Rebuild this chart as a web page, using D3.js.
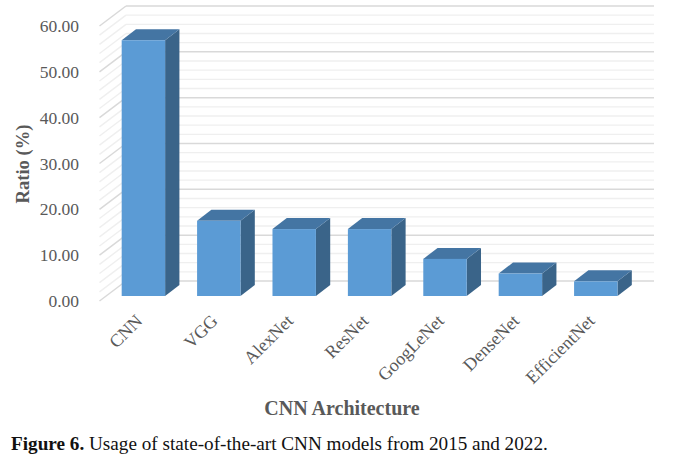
<!DOCTYPE html>
<html>
<head>
<meta charset="utf-8">
<script src="https://cdn.jsdelivr.net/npm/d3@7"></script>
<style>
body { margin: 0; background: #fff; }
text { font-family: "Liberation Serif", serif; }
</style>
</head>
<body>
<div id="chart"></div>
<script>
var categories = ["CNN", "VGG", "AlexNet", "ResNet", "GoogLeNet", "DenseNet", "EfficientNet"];
var ratios = [55.8, 16.4, 14.6, 14.6, 8.1, 4.9, 3.2];
var majorTicks = [0, 10, 20, 30, 40, 50, 60];
var minorTicks = [2, 4, 6, 8, 12, 14, 16, 18, 22, 24, 26, 28, 32, 34, 36, 38, 42, 44, 46, 48, 52, 54, 56, 58];

var svgWidth = 689;
var svgHeight = 459;

// plot box of the front of the floor, the back wall sits up and to the right
var floorLeft = 99.5;
var floorRight = 627.5;
var floorY = 301;
var plotHeight = 275;
var wallDx = 26.5;
var wallDy = -20;

// the bars stand a bit in from the front edge of the floor
var barFrontDx = 6.2;
var barFrontDy = -5;
var barDepthDx = 14.3;
var barDepthDy = -11;

var svg = d3.select("#chart")
  .append("svg")
  .attr("width", svgWidth)
  .attr("height", svgHeight);

var xScale = d3.scaleBand()
  .domain(categories)
  .range([floorLeft + barFrontDx, floorLeft + barFrontDx + 527.8])
  .paddingInner(0.424)
  .paddingOuter(0.212);

var yScale = d3.scaleLinear()
  .domain([0, 60])
  .range([floorY, floorY - plotHeight]);

function gridColor(major) { return major ? "#d9d9d9" : "#efefef"; }
function gridWidth(major) { return major ? 1.5 : 1.4; }

var gridData = minorTicks.map(d => ({ v: d, major: false }))
  .concat(majorTicks.map(d => ({ v: d, major: true })));

// back wall
svg.append("g").selectAll("line")
  .data(gridData)
  .enter()
  .append("line")
  .attr("x1", floorLeft + wallDx)
  .attr("x2", floorRight + wallDx)
  .attr("y1", d => yScale(d.v) + wallDy)
  .attr("y2", d => yScale(d.v) + wallDy)
  .attr("stroke", d => gridColor(d.major))
  .attr("stroke-width", d => gridWidth(d.major));

// side wall
svg.append("g").selectAll("line")
  .data(gridData)
  .enter()
  .append("line")
  .attr("x1", floorLeft)
  .attr("x2", floorLeft + wallDx)
  .attr("y1", d => yScale(d.v))
  .attr("y2", d => yScale(d.v) + wallDy)
  .attr("stroke", d => gridColor(d.major))
  .attr("stroke-width", d => gridWidth(d.major));

var rows = categories.map((c, i) => ({ name: c, value: ratios[i] }));

var bars = svg.append("g").selectAll("g")
  .data(rows)
  .enter()
  .append("g")
  .attr("transform", `translate(0, ${barFrontDy})`);

// right side
bars.append("polygon")
  .attr("points", function (d) {
    var x = xScale(d.name) + xScale.bandwidth();
    var top = yScale(d.value);
    return [[x, top], [x + barDepthDx, top + barDepthDy],
      [x + barDepthDx, yScale(0) + barDepthDy], [x, yScale(0)]].join(" ");
  })
  .attr("fill", "#3a6489");

// top
bars.append("polygon")
  .attr("points", function (d) {
    var x = xScale(d.name);
    var w = xScale.bandwidth();
    var top = yScale(d.value);
    return [[x, top], [x + w, top], [x + w + barDepthDx, top + barDepthDy],
      [x + barDepthDx, top + barDepthDy]].join(" ");
  })
  .attr("fill", "#4475a3");

// front
bars.append("rect")
  .attr("x", d => xScale(d.name))
  .attr("y", d => yScale(d.value))
  .attr("width", xScale.bandwidth())
  .attr("height", d => yScale(0) - yScale(d.value))
  .attr("fill", "#5b9bd5");

// y tick labels
svg.append("g").selectAll("text")
  .data(majorTicks)
  .enter()
  .append("text")
  .attr("x", 79)
  .attr("y", d => yScale(d) + 6)
  .attr("text-anchor", "end")
  .attr("font-size", 17.5)
  .attr("fill", "#595959")
  .text(d => d3.format(".2f")(d));

// x tick labels
svg.append("g").selectAll("text")
  .data(categories)
  .enter()
  .append("text")
  .attr("transform", d => `translate(${xScale(d) + xScale.bandwidth() / 2 + 0}, 322) rotate(-45)`)
  .attr("text-anchor", "end")
  .attr("font-size", 18)
  .attr("fill", "#595959")
  .text(d => d);

svg.append("text")
  .attr("transform", "translate(28.5, 164) rotate(-90)")
  .attr("text-anchor", "middle")
  .attr("font-size", 18.6)
  .attr("font-weight", "bold")
  .attr("fill", "#595959")
  .text("Ratio (%)");

svg.append("text")
  .attr("x", 342)
  .attr("y", 415)
  .attr("text-anchor", "middle")
  .attr("font-size", 20)
  .attr("font-weight", "bold")
  .attr("fill", "#595959")
  .text("CNN Architecture");

var caption = svg.append("text")
  .attr("x", 11)
  .attr("y", 450)
  .attr("font-size", 19.2)
  .attr("fill", "#111");

caption.append("tspan")
  .attr("font-weight", "bold")
  .text("Figure 6.");

caption.append("tspan")
  .text(" Usage of state-of-the-art CNN models from 2015 and 2022.");
</script>
</body>
</html>
